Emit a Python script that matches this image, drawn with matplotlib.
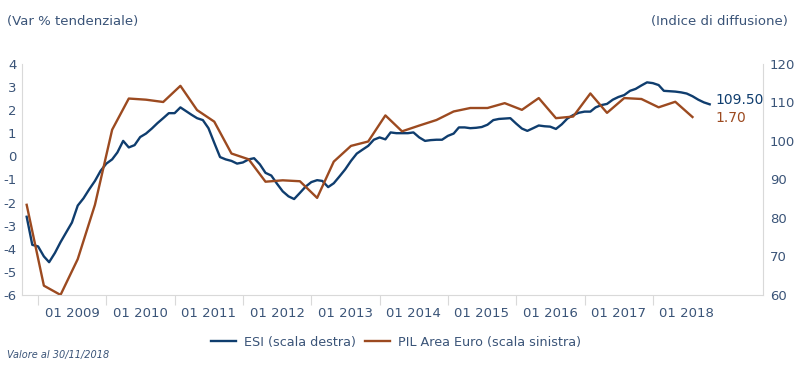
import matplotlib
matplotlib.use("Agg")
import matplotlib.pyplot as plt
import matplotlib.dates as mdates
import numpy as np
import pandas as pd

# ESI, monthly, Nov 2008 - Nov 2018 (right axis, index)
esi_dates = pd.date_range("2008-11-01", periods=121, freq="MS")
esi = [80.3, 73.0, 72.6, 70.0, 68.5, 70.9, 73.7, 76.3, 78.8, 83.2,
       85.1, 87.4, 89.6, 92.2, 94.1, 95.2, 97.0, 100.0, 98.3, 98.9,
       101.0, 101.9, 103.2, 104.6, 105.9, 107.2, 107.2, 108.7, 107.8, 106.8,
       105.9, 105.4, 103.3, 99.5, 95.8, 95.2, 94.8, 94.1, 94.4, 95.2,
       95.5, 93.9, 91.7, 91.0, 88.9, 86.9, 85.6, 84.9, 86.5, 88.1,
       89.3, 89.8, 89.6, 88.0, 89.0, 90.8, 92.6, 94.8, 96.7, 97.7,
       98.7, 100.3, 100.9, 100.4, 102.2, 102.0, 102.0, 102.0, 102.2, 100.9,
       100.0, 100.2, 100.3, 100.3, 101.3, 101.9, 103.5, 103.5, 103.3, 103.4,
       103.6, 104.2, 105.4, 105.7, 105.8, 105.9, 104.5, 103.2, 102.6, 103.3,
       104.0, 103.8, 103.7, 103.1, 104.3, 105.8, 106.7, 107.3, 107.6, 107.6,
       108.7, 109.3, 109.6, 110.7, 111.4, 111.9, 113.0, 113.5, 114.4, 115.2,
       115.0, 114.5, 113.0, 112.9, 112.8, 112.6, 112.3, 111.6, 110.7, 110.0,
       109.5]

# PIL Area Euro, quarterly (left axis, var % tendenziale)
pil_dates = pd.date_range("2008-11-01", periods=40, freq="3MS")
pil = [-2.1, -5.6, -6.0, -4.45, -2.1, 1.15, 2.5, 2.45, 2.35, 3.05,
       2.0, 1.5, 0.12, -0.13, -1.1, -1.04, -1.08, -1.8, -0.23, 0.45,
       0.64, 1.77, 1.08, 1.33, 1.57, 1.94, 2.09, 2.09, 2.3, 2.01,
       2.52, 1.65, 1.72, 2.72, 1.88, 2.52, 2.48, 2.12, 2.36, 1.70]

years = list(range(2009, 2019))
year_labels = ["01 %d" % y for y in years]

c_esi = "#0f3d6e"
c_pil = "#9c4a20"
c_txt = "#3a5478"
c_ax = "#d9d9d9"

plt.rcParams["font.family"] = ["DejaVu Sans"]
plt.rcParams["axes.unicode_minus"] = False

fig = plt.figure(figsize=(8, 3.65), dpi=100)
ax = fig.add_axes([0.0275, 0.192, 0.926, 0.633])
ax2 = ax.twinx()

ax2.plot(esi_dates, esi, color=c_esi, lw=1.7, label="ESI (scala destra)")
ax.plot(pil_dates, pil, color=c_pil, lw=1.7, label="PIL Area Euro (scala sinistra)")
ax.set_zorder(ax2.get_zorder() + 1)
ax.patch.set_visible(False)

ax.set_ylim(-6, 4)
ax2.set_ylim(60, 120)
ax.set_yticks(range(-6, 5))
ax2.set_yticks(range(60, 121, 10))
ax.set_xlim(pd.Timestamp("2008-10-07"), pd.Timestamp("2019-08-12"))

# ticks at January, labels centred in the year
ax.set_xticks([pd.Timestamp("%d-01-01" % y) for y in years])
ax.set_xticklabels([])
ax.set_xticks([pd.Timestamp("%d-07-02" % y) for y in years], minor=True)
ax.set_xticklabels(year_labels, minor=True)
ax.tick_params(axis="x", which="major", length=7, color=c_ax, direction="out")
ax.tick_params(axis="x", which="minor", length=0, pad=9, labelsize=9.5, labelcolor=c_txt)
ax.tick_params(axis="y", length=0, pad=4, labelsize=9.5, labelcolor=c_txt)
ax2.tick_params(axis="y", length=0, pad=5, labelsize=9.5, labelcolor=c_txt)

for a in (ax, ax2):
    for s in a.spines.values():
        s.set_color(c_ax)
    a.spines["top"].set_visible(False)
ax.spines["right"].set_visible(False)
ax2.spines["left"].set_visible(False)
ax2.spines["bottom"].set_visible(False)

ax2.annotate("109.50", xy=(esi_dates[-1], esi[-1]), xytext=(4, 3),
             textcoords="offset points", color=c_esi, fontsize=10, va="center")
ax.annotate("1.70", xy=(esi_dates[-1], pil[-1]), xytext=(4, -1),
            textcoords="offset points", color=c_pil, fontsize=10, va="center")

fig.text(0.009, 0.942, "(Var % tendenziale)", color=c_txt, fontsize=9.5, va="center")
fig.text(0.985, 0.942, "(Indice di diffusione)", color=c_txt, fontsize=9.5,
         va="center", ha="right")
fig.text(0.009, 0.028, "Valore al 30/11/2018", color=c_txt, fontsize=7,
         style="italic", va="center")

h1, l1 = ax2.get_legend_handles_labels()
h2, l2 = ax.get_legend_handles_labels()
fig.legend(h1 + h2, l1 + l2, loc="center", bbox_to_anchor=(0.495, 0.063), ncol=2,
           frameon=False, fontsize=9.2, labelcolor=c_txt, handlelength=2.0,
           columnspacing=0.7, handletextpad=0.6)

fig.savefig("out.png", dpi=100)
